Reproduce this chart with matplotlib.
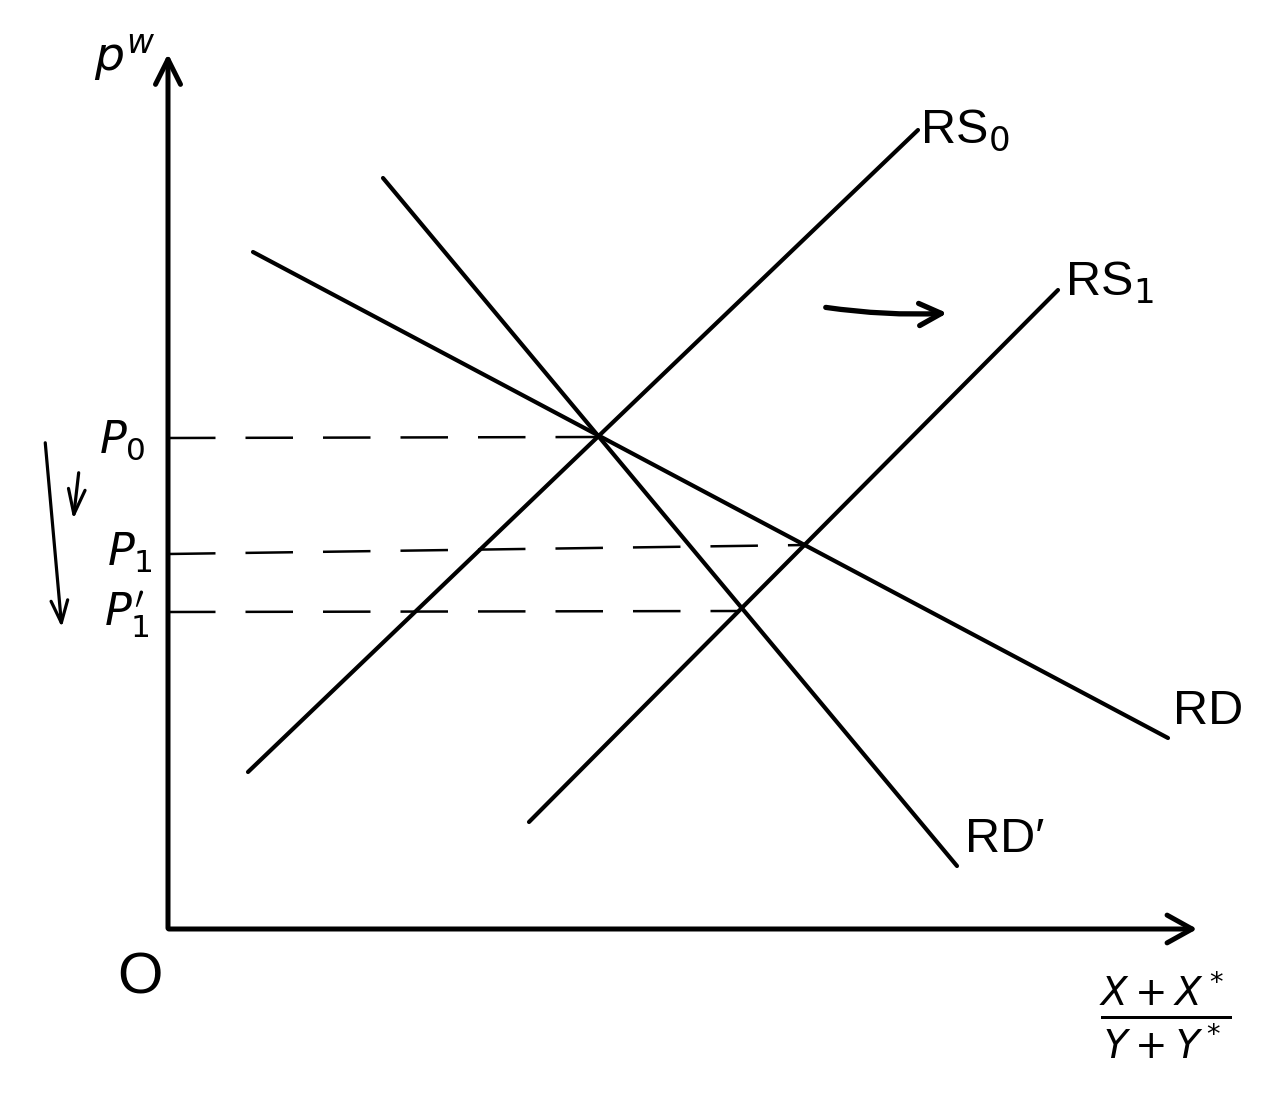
import numpy as np
import matplotlib
matplotlib.use('Agg')
import matplotlib.pyplot as plt

plt.rcParams['font.family'] = ['Liberation Sans', 'DejaVu Sans']
plt.rcParams['mathtext.fontset'] = 'dejavusans'

# Curves (start, end) in diagram units, origin at the axis corner
rs0_x = [80, 750]
rs0_y = [157, 799]
rs1_x = [361, 890]
rs1_y = [107, 639]
rd_x = [85, 1000]
rd_y = [677, 191]
rdp_x = [215, 789]
rdp_y = [751, 63]

# Price levels (dashed guides)
p0_x = [0, 430]
p0_y = [491, 492]
p1_x = [0, 637]
p1_y = [375, 384]
p1p_x = [0, 572]
p1p_y = [317, 318]

# Axis ends
x_end = 1032
y_end = 878

fig = plt.figure(figsize=(12.62, 10.94), dpi=100)
ax = fig.add_axes([0, 0, 1, 1])
ax.set_xlim(-168, 1094)
ax.set_ylim(-165, 929)
ax.axis('off')

lw = 3.0
for xs, ys in [(rs0_x, rs0_y), (rs1_x, rs1_y), (rd_x, rd_y), (rdp_x, rdp_y)]:
    ax.plot(xs, ys, color='black', lw=lw, solid_capstyle='round')

for xs, ys in [(p0_x, p0_y), (p1_x, p1_y), (p1p_x, p1p_y)]:
    ax.plot(xs, ys, color='black', lw=1.8, dashes=(19, 12))

# axes with arrow heads
ax.annotate('', xy=(0, y_end), xytext=(0, -2),
            arrowprops=dict(arrowstyle='->,head_length=0.9,head_width=0.45',
                            lw=3.6, color='black', mutation_scale=20))
ax.annotate('', xy=(x_end, 0), xytext=(-2, 0),
            arrowprops=dict(arrowstyle='->,head_length=0.9,head_width=0.5',
                            lw=3.6, color='black', mutation_scale=20))

# shift arrow and price arrows
ax.annotate('', xy=(782, 616), xytext=(655, 622),
            arrowprops=dict(arrowstyle='->,head_length=0.8,head_width=0.4',
                            lw=3.8, color='black', mutation_scale=20,
                            connectionstyle='arc3,rad=0.05'))
ax.annotate('', xy=(-106, 299), xytext=(-123, 489),
            arrowprops=dict(arrowstyle='->,head_length=0.8,head_width=0.3',
                            lw=2.3, color='black', mutation_scale=20))
ax.annotate('', xy=(-95, 407), xytext=(-89, 459),
            arrowprops=dict(arrowstyle='->,head_length=0.9,head_width=0.3',
                            lw=2.3, color='black', mutation_scale=20))

fs = 35
ax.text(-43, 871, r'$p^w$', fontsize=34, ha='center', va='center')
ax.text(752, 799, r'RS$_0$', fontsize=fs, ha='left', va='center')
ax.text(897, 646, r'RS$_1$', fontsize=fs, ha='left', va='center')
ax.text(1005, 217, 'RD', fontsize=fs, ha='left', va='center')
ax.text(797, 89, "RD\u2032", fontsize=fs, ha='left', va='center')
ax.text(-46, 489, r'$P_0$', fontsize=32, ha='center', va='center')
ax.text(-38, 376, r'$P_1$', fontsize=32, ha='center', va='center')
ax.text(-41, 314, r"$P_1'$", fontsize=32, ha='center', va='center')
ax.text(-28, -49, 'O', fontsize=42, ha='center', va='center')
ax.text(997, -86, r'$\frac{X+X^*}{Y+Y^*}$', fontsize=40, ha='center', va='center')

fig.savefig('out.png', dpi=100, facecolor='white')
